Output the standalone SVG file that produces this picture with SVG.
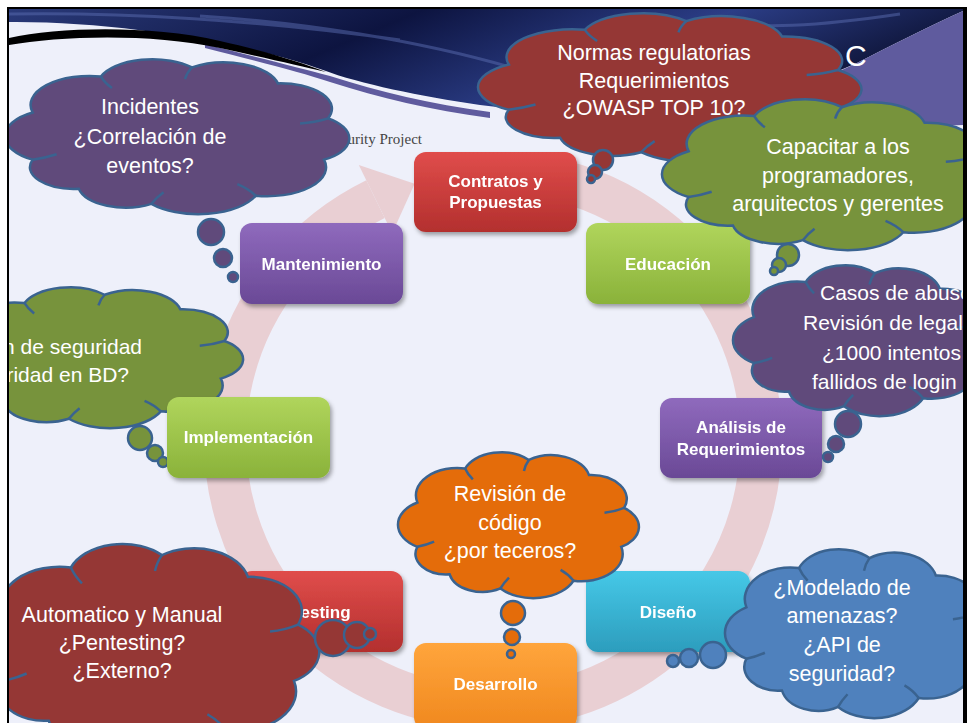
<svg xmlns="http://www.w3.org/2000/svg" xmlns:xlink="http://www.w3.org/1999/xlink" width="967" height="723" viewBox="0 0 967 723">
<style>
.bt{font-family:"Liberation Sans",Arial,sans-serif;font-weight:bold;font-size:17px;fill:#ffffff;text-anchor:middle}
.ct{font-family:"Liberation Sans",Arial,sans-serif;font-size:21.5px;fill:#ffffff;text-anchor:middle}
.ctl{font-family:"Liberation Sans",Arial,sans-serif;font-size:21px;fill:#ffffff}
.cl{stroke:#3a6390;stroke-width:2.5}
.cr{fill:none;stroke:#3a6390;stroke-width:2.5}
.purple{fill:#604a7b}
.red{fill:#953735}
.green{fill:#77933c}
.orange{fill:#e46c0a}
.blue{fill:#4f81bd}
</style>
<defs>
<clipPath id="frame"><rect x="9" y="9" width="954" height="714"/></clipPath>
<path id="cloud" vector-effect="non-scaling-stroke" d="M10.5,63 A15,15 0 0 1 10.5,37 A16,16 0 0 1 29,17.1 A15,15 0 0 1 53.7,12.1 A15,15 0 0 1 77,20.9 A14,14 0 0 1 90.6,40.2 A13.5,13.5 0 0 1 89.5,63 A16,16 0 0 1 71,82.9 A17,17 0 0 1 42.7,87.4 A13,13 0 0 1 23,79.1 A12,12 0 0 1 10.5,63 Z"/>
<path id="crease" vector-effect="non-scaling-stroke" d="M29,17.1 Q30,20.5 32,23.5 M53.7,12.1 Q52.3,15 51.8,18.5 M90.6,40.2 Q87,42.5 83,43 M71,82.9 Q69,79 66,76.5 M42.7,87.4 Q44,84 46,81 M10.5,63 Q14,62 17,60"/>
<linearGradient id="gRed" x1="0" y1="0" x2="0" y2="1"><stop offset="0" stop-color="#e04d4b"/><stop offset="1" stop-color="#b32f2e"/></linearGradient>
<linearGradient id="gGreen" x1="0" y1="0" x2="0" y2="1"><stop offset="0" stop-color="#b0d55c"/><stop offset="1" stop-color="#8ab23a"/></linearGradient>
<linearGradient id="gPurple" x1="0" y1="0" x2="0" y2="1"><stop offset="0" stop-color="#8f6abd"/><stop offset="1" stop-color="#6a4996"/></linearGradient>
<linearGradient id="gOrange" x1="0" y1="0" x2="0" y2="1"><stop offset="0" stop-color="#ffa53c"/><stop offset="1" stop-color="#f0881e"/></linearGradient>
<linearGradient id="gCyan" x1="0" y1="0" x2="0" y2="1"><stop offset="0" stop-color="#46c8e7"/><stop offset="1" stop-color="#2c9dbd"/></linearGradient>
<linearGradient id="gSky" x1="0" y1="0" x2="1" y2="0.3"><stop offset="0" stop-color="#2a3a7a"/><stop offset="0.4" stop-color="#0d1440"/><stop offset="0.7" stop-color="#2b3d86"/><stop offset="1" stop-color="#0b1030"/></linearGradient>
<filter id="sh" x="-10%" y="-10%" width="125%" height="130%"><feDropShadow dx="2" dy="3" stdDeviation="2" flood-color="#000" flood-opacity="0.35"/></filter>
</defs>
<rect width="967" height="723" fill="#ffffff"/>
<g clip-path="url(#frame)">
<rect x="9" y="9" width="954" height="714" fill="#eef0fa"/>
<path d="M9,9 H963 V11 C930,26 890,46 857,63 L700,130 L480,105 C420,96 360,84 323,70 C250,44 120,21 9,22 Z" fill="url(#gSky)"/>
<path d="M9,14 C120,12 260,20 400,40 M200,16 C300,22 420,40 520,70 M700,20 C760,30 820,26 900,14" stroke="#5a6cb0" stroke-width="3" fill="none" opacity="0.5"/>
<path d="M205,44 C260,58 300,68 330,76 C380,92 430,104 490,112 L490,118 C430,110 380,98 330,82 C300,72 260,62 205,48 Z" fill="#5f5b9e"/>
<path d="M963,11 C930,26 890,46 857,63 L700,135 L963,125 Z" fill="#5f5b9e"/>
<path d="M9,38 C60,27 150,25 220,41 C265,51 300,62 326,72 C300,66 262,57 220,48 C150,33 60,36 9,45 Z" fill="#000000"/>
<text x="845" y="66" font-family="Liberation Sans,Arial,sans-serif" font-size="30" fill="#ffffff">C</text>
<text x="422" y="144" font-family="Liberation Serif,Times New Roman,serif" font-size="15" fill="#444444" text-anchor="end">curity Project</text>

<g id="connectors">
<path d="M562.4,181.1 A268,268 0 1 1 375.5,199.1" fill="none" stroke="#e9cfd3" stroke-width="42"/>
<path d="M358.8,165 L414.6,183.7 L392.2,233.3 Z" fill="#e9cfd3"/>
</g>

<g id="cloud-config">
<use xlink:href="#cloud" class="green cl" transform="translate(-69.74,274.82) scale(3.247,1.647)"/>
<use xlink:href="#crease" class="cr" transform="translate(-69.74,274.82) scale(3.247,1.647)"/>
<circle cx="140" cy="438" r="12" class="green cl"/>
<circle cx="155" cy="453" r="8" class="green cl"/>
<circle cx="163" cy="462" r="5" class="green cl"/>
<text x="142" y="354" class="ctl" text-anchor="end">n de seguridad</text>
<text x="129" y="382" class="ctl" text-anchor="end">ridad en BD?</text>
</g>

<g id="node-contratos" filter="url(#sh)">
<rect x="414" y="152" width="163" height="80" rx="12" fill="url(#gRed)"/>
<text x="495.5" y="187" class="bt">Contratos y</text>
<text x="495.5" y="208" class="bt">Propuestas</text>
</g>
<g id="node-educacion" filter="url(#sh)">
<rect x="586" y="223" width="164" height="81" rx="12" fill="url(#gGreen)"/>
<text x="668" y="270" class="bt">Educación</text>
</g>
<g id="node-analisis" filter="url(#sh)">
<rect x="660" y="398" width="162" height="80" rx="12" fill="url(#gPurple)"/>
<text x="741" y="433" class="bt">Análisis de</text>
<text x="741" y="455" class="bt">Requerimientos</text>
</g>
<g id="node-diseno" filter="url(#sh)">
<rect x="586" y="571" width="164" height="81" rx="12" fill="url(#gCyan)"/>
<text x="668" y="618" class="bt">Diseño</text>
</g>
<g id="node-desarrollo" filter="url(#sh)">
<rect x="414" y="643" width="163" height="86" rx="12" fill="url(#gOrange)"/>
<text x="495.5" y="690" class="bt">Desarrollo</text>
</g>
<g id="node-testing" filter="url(#sh)">
<rect x="240" y="571" width="163" height="81" rx="12" fill="url(#gRed)"/>
<text x="321" y="618" class="bt">Testing</text>
</g>
<g id="node-implementacion" filter="url(#sh)">
<rect x="167" y="397" width="163" height="81" rx="12" fill="url(#gGreen)"/>
<text x="248.5" y="443" class="bt">Implementación</text>
</g>
<g id="node-mantenimiento" filter="url(#sh)">
<rect x="240" y="223" width="163" height="81" rx="12" fill="url(#gPurple)"/>
<text x="321.5" y="270" class="bt">Mantenimiento</text>
</g>

<g id="cloud-incidentes">
<use xlink:href="#cloud" class="purple cl" transform="translate(-6.06,45.51) scale(3.688,1.812)"/>
<use xlink:href="#crease" class="cr" transform="translate(-6.06,45.51) scale(3.688,1.812)"/>
<circle cx="211" cy="232" r="13" class="purple cl"/>
<circle cx="223" cy="258" r="9" class="purple cl"/>
<circle cx="233" cy="277" r="5" class="purple cl"/>
<text x="150" y="114" class="ct">Incidentes</text>
<text x="150" y="144" class="ct">¿Correlación de</text>
<text x="150" y="173" class="ct">eventos?</text>
</g>

<g id="cloud-normas">
<use xlink:href="#cloud" class="red cl" transform="translate(465.68,0.07) scale(4.108,1.741)"/>
<use xlink:href="#crease" class="cr" transform="translate(465.68,0.07) scale(4.108,1.741)"/>
<circle cx="603" cy="160" r="10" class="red cl"/>
<circle cx="595" cy="172" r="7" class="red cl"/>
<circle cx="591" cy="179" r="4" class="red cl"/>
<text x="654" y="60" class="ct">Normas regulatorias</text>
<text x="654" y="88" class="ct">Requerimientos</text>
<text x="654" y="115" class="ct">¿OWASP TOP 10?</text>
</g>

<g id="cloud-capacitar">
<use xlink:href="#cloud" class="green cl" transform="translate(651.35,85.88) scale(3.548,1.765)"/>
<use xlink:href="#crease" class="cr" transform="translate(651.35,85.88) scale(3.548,1.765)"/>
<circle cx="788" cy="255" r="11" class="green cl"/>
<circle cx="779" cy="265" r="7" class="green cl"/>
<circle cx="774" cy="271" r="4" class="green cl"/>
<text x="838" y="154" class="ct">Capacitar a los</text>
<text x="838" y="183" class="ct">programadores,</text>
<text x="838" y="211" class="ct">arquitectos y gerentes</text>
</g>

<g id="cloud-casos">
<use xlink:href="#cloud" class="purple cl" transform="translate(724.61,251.88) scale(2.796,1.765)"/>
<use xlink:href="#crease" class="cr" transform="translate(724.61,251.88) scale(2.796,1.765)"/>
<circle cx="848" cy="424" r="13" class="purple cl"/>
<circle cx="836" cy="444" r="8" class="purple cl"/>
<circle cx="828" cy="457" r="5" class="purple cl"/>
<text x="820" y="300" class="ctl">Casos de abuso</text>
<text x="803" y="330" class="ctl">Revisión de legal</text>
<text x="822" y="360" class="ctl">¿1000 intentos</text>
<text x="812" y="389" class="ctl">fallidos de login</text>
</g>

<g id="cloud-revision">
<use xlink:href="#cloud" class="orange cl" transform="translate(390.26,439.35) scale(2.581,1.706)"/>
<use xlink:href="#crease" class="cr" transform="translate(390.26,439.35) scale(2.581,1.706)"/>
<circle cx="513" cy="613" r="12" class="orange cl"/>
<circle cx="512" cy="637" r="8" class="orange cl"/>
<circle cx="511" cy="654" r="4" class="orange cl"/>
<text x="510" y="501" class="ct">Revisión de</text>
<text x="510" y="530" class="ct">código</text>
<text x="510" y="558" class="ct">¿por teceros?</text>
</g>

<g id="cloud-automatico">
<use xlink:href="#cloud" class="red cl" transform="translate(-36.06,525.24) scale(3.688,2.471)"/>
<use xlink:href="#crease" class="cr" transform="translate(-36.06,525.24) scale(3.688,2.471)"/>
<circle cx="333" cy="638" r="18" class="red cl"/>
<circle cx="357" cy="635" r="13" class="red cl"/>
<circle cx="370" cy="634" r="6" class="red cl"/>
<text x="122" y="622" class="ct">Automatico y Manual</text>
<text x="122" y="650" class="ct">¿Pentesting?</text>
<text x="122" y="678" class="ct">¿Externo?</text>
</g>

<g id="cloud-modelado">
<use xlink:href="#cloud" class="blue cl" transform="translate(716.45,534.19) scale(2.849,1.976)"/>
<use xlink:href="#crease" class="cr" transform="translate(716.45,534.19) scale(2.849,1.976)"/>
<circle cx="713" cy="655" r="13" class="blue cl"/>
<circle cx="689" cy="658" r="9" class="blue cl"/>
<circle cx="673" cy="661" r="6" class="blue cl"/>
<text x="842" y="595" class="ct">¿Modelado de</text>
<text x="842" y="623" class="ct">amenazas?</text>
<text x="842" y="652" class="ct">¿API de</text>
<text x="842" y="681" class="ct">seguridad?</text>
</g>
</g>
<rect x="7" y="7" width="956" height="2" fill="#000"/>
<rect x="7" y="7" width="2" height="716" fill="#000"/>
<rect x="963" y="7" width="4" height="716" fill="#000"/>
</svg>
